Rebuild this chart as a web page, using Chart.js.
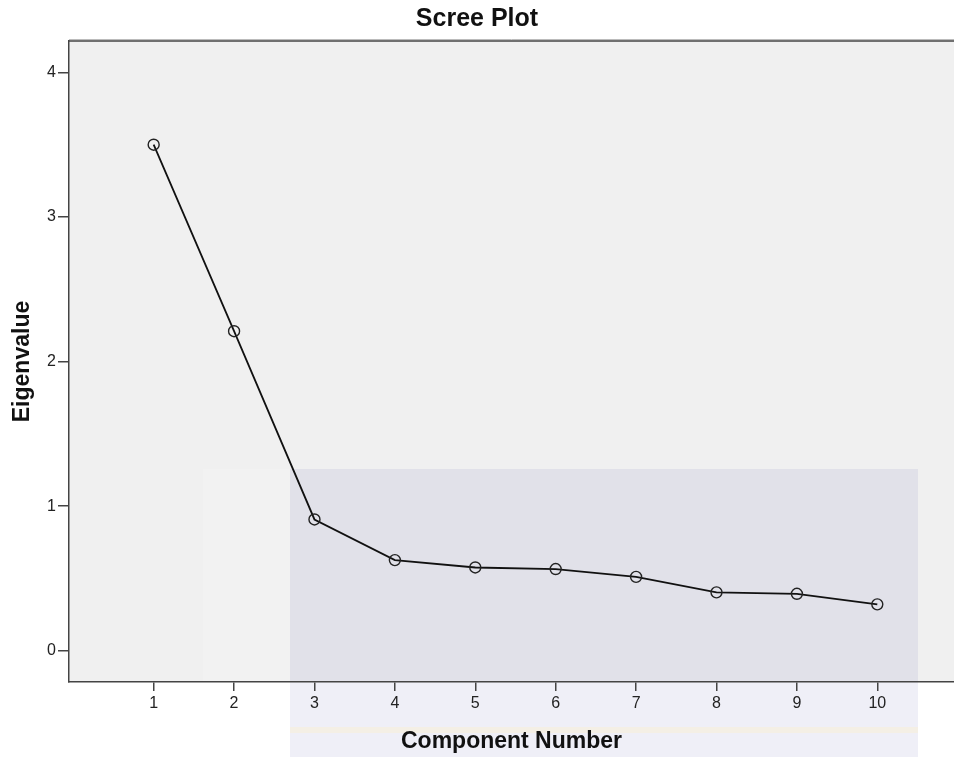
<!DOCTYPE html>
<html>
<head>
<meta charset="utf-8">
<script src="https://cdn.jsdelivr.net/npm/chart.js@4.4.1/dist/chart.umd.min.js"></script>
<style>
  html, body { margin: 0; padding: 0; background: #ffffff; }
  #wrap { width: 954px; height: 757px; }
</style>
</head>
<body>
<div id="wrap"><canvas id="c" width="954" height="757"></canvas></div>
<script>
// ---- data ----
const components = [1, 2, 3, 4, 5, 6, 7, 8, 9, 10];
const eigenvalues = [3.50, 2.21, 0.908, 0.627, 0.576, 0.565, 0.511, 0.404, 0.394, 0.321];
const yTickValues = [0, 1, 2, 3, 4];
const xTickValues = [1, 2, 3, 4, 5, 6, 7, 8, 9, 10];
const chartTitle = 'Scree Plot';
const xTitle = 'Component Number';
const yTitle = 'Eigenvalue';

const FONT = '"Liberation Sans", Arial, sans-serif';

const points = components.map((c, i) => ({ x: c, y: eigenvalues[i] }));

const backgroundPlugin = {
  id: 'plotBackground',
  beforeDraw(chart) {
    const { ctx, chartArea: a, width, height } = chart;
    ctx.save();
    ctx.fillStyle = '#ffffff';
    ctx.fillRect(0, 0, width, height);
    ctx.fillStyle = '#f0f0f0';
    ctx.fillRect(a.left, a.top, a.right - a.left, a.bottom - a.top);
    // faint watermark panel (background decoration of the reference image)
    ctx.fillStyle = 'rgba(110,110,180,0.11)';
    ctx.fillRect(290, 469, 628, height - 469);
    ctx.fillStyle = 'rgba(255,255,255,0.15)';
    ctx.fillRect(203, 469, 87, height - 469);
    ctx.fillStyle = 'rgba(255,240,190,0.3)';
    ctx.fillRect(290, 727, 628, 6);
    // top frame line
    ctx.strokeStyle = '#bbbbbb';
    ctx.lineWidth = 1;
    ctx.beginPath();
    ctx.moveTo(a.left, a.top - 1.5);
    ctx.lineTo(a.right, a.top - 1.5);
    ctx.stroke();
    ctx.strokeStyle = '#707070';
    ctx.lineWidth = 2;
    ctx.beginPath();
    ctx.moveTo(a.left, a.top);
    ctx.lineTo(a.right, a.top);
    ctx.stroke();
    ctx.restore();
  }
};

new Chart(document.getElementById('c'), {
  type: 'scatter',
  data: {
    datasets: [{
      data: points,
      showLine: true,
      borderColor: '#111111',
      borderWidth: 1.8,
      pointRadius: 5.5,
      pointHoverRadius: 5.5,
      pointBorderWidth: 1.4,
      pointBorderColor: '#222222',
      pointBackgroundColor: 'rgba(0,0,0,0)',
      tension: 0
    }]
  },
  options: {
    responsive: false,
    animation: false,
    layout: { autoPadding: false, padding: { left: 0, right: 0, top: 0, bottom: 0 } },
    plugins: {
      legend: { display: false },
      tooltip: { enabled: false },
      title: {
        display: true,
        text: chartTitle,
        color: '#111111',
        font: { family: FONT, size: 25, weight: 'bold', lineHeight: 1.2 },
        padding: { top: 4.5, bottom: 6.5 }
      }
    },
    scales: {
      x: {
        type: 'linear',
        min: -0.053,
        max: 10.954,
        afterFit(scale) { scale.height = 75; scale.paddingLeft = 0; scale.paddingRight = 0; },
        afterBuildTicks(scale) { scale.ticks = xTickValues.map(v => ({ value: v })); },
        border: { display: true, color: '#444444', width: 1.5 },
        grid: { display: true, drawOnChartArea: false, drawTicks: true, tickLength: 9, color: '#444444', lineWidth: 1.5 },
        ticks: { color: '#222222', font: { family: FONT, size: 16 }, padding: 3, maxRotation: 0, autoSkip: false },
        title: {
          display: true,
          text: xTitle,
          color: '#111111',
          font: { family: FONT, size: 23, weight: 'bold', lineHeight: 1.2 },
          padding: { top: 0, bottom: 2 }
        }
      },
      y: {
        type: 'linear',
        min: -0.216,
        max: 4.217,
        afterFit(scale) { scale.width = 69; scale.paddingTop = 0; scale.paddingBottom = 0; },
        afterBuildTicks(scale) { scale.ticks = yTickValues.map(v => ({ value: v })); },
        border: { display: true, color: '#444444', width: 1.5 },
        grid: { display: true, drawOnChartArea: false, drawTicks: true, tickLength: 11, color: '#444444', lineWidth: 1.5 },
        ticks: { color: '#222222', font: { family: FONT, size: 16 }, padding: 2 },
        title: {
          display: true,
          text: yTitle,
          color: '#111111',
          font: { family: FONT, size: 23, weight: 'bold', lineHeight: 1.2 },
          padding: { top: 9, bottom: 0 }
        }
      }
    }
  },
  plugins: [backgroundPlugin]
});
</script>
</body>
</html>
